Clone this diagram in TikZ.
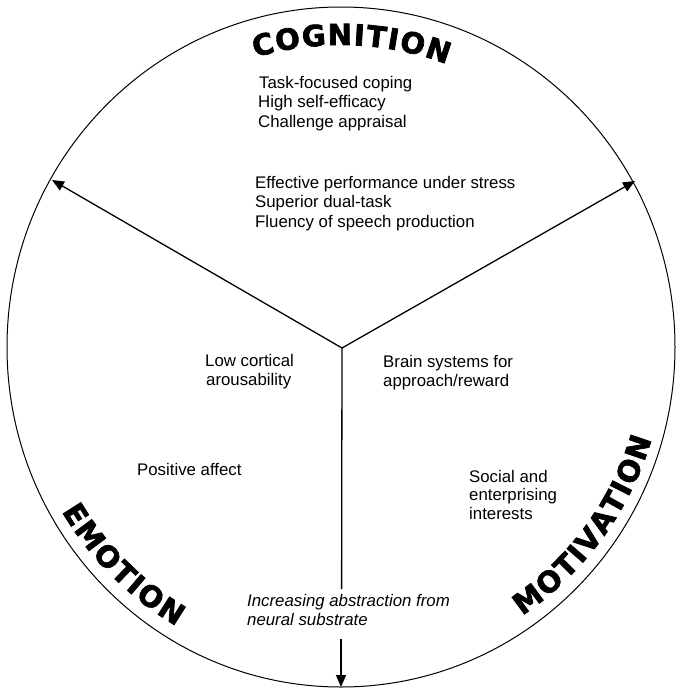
\documentclass[tikz,border=0pt]{standalone}
\usepackage{fontspec}
\setmainfont{Liberation Sans}
\newfontfamily\heavyfont[FakeBold=2.5]{DejaVu Sans Bold}
\newcommand\titlefont{\heavyfont\fontsize{29}{32}\selectfont}
\usetikzlibrary{arrows.meta,decorations.text}
\begin{document}
\begin{tikzpicture}[x=1pt,y=-1pt,
  spokeline/.style={line width=1.3pt},
  spoke/.style={spokeline,-{Triangle[length=12pt,width=10pt]}},
  lbl/.style={anchor=base west,inner sep=0pt,font=\fontsize{16.8}{19.5}\selectfont},
  ilbl/.style={lbl,font=\fontsize{16.8}{19.5}\selectfont\itshape},
  arctitle/.style={decorate,decoration={text along path,text={|\titlefont|#1},text align=fit to path}}
  ]
\useasboundingbox (0,0) rectangle (676,689);
\draw[line width=1pt] (341,347) ellipse [x radius=334pt, y radius=340pt];
\coordinate (hub) at (342,348);
\coordinate (tl) at (52,180);
\coordinate (tr) at (635,181);
\coordinate (bt) at (341,687);
\coordinate (gaptop) at (341.6,589);
\coordinate (gapbot) at (341,639);
\draw[spoke] (hub) -- (tl);
\draw[spoke] (hub) -- (tr);
\draw[spokeline] (hub) -- (gaptop);
\draw[spoke] (gapbot) -- (bt);

\path[arctitle=COGNITION] plot[domain=253.5:290.5,samples=60] ({341+302*cos(\x)},{347+302*sin(\x)});
\path[arctitle=EMOTION] plot[domain=0:1,samples=60] ({341+324*cos(149.5-29*\x)},{347+324*sin(149.5-29*\x)});
\path[arctitle=MOTIVATION] plot[domain=0:1,samples=60] ({341+324*cos(56-39.5*\x)},{347+324*sin(56-39.5*\x)});

\node[lbl] (cog1) at (259,88) {Task-focused coping};
\node[lbl] (cog2) at (258,107.5) {High self-efficacy};
\node[lbl] (cog3) at (258,127) {Challenge appraisal};
\node[lbl] (perf1) at (255,188) {Effective performance under stress};
\node[lbl] (perf2) at (255,207.5) {Superior dual-task};
\node[lbl] (perf3) at (255,227) {Fluency of speech production};
\node[lbl] (emo1) at (205,366) {Low cortical};
\node[lbl] (emo2) at (206,385) {arousability};
\node[lbl] (mot1) at (383,367) {Brain systems for};
\node[lbl] (mot2) at (383,386) {approach/reward};
\node[lbl] (pos) at (137,475) {Positive affect};
\node[lbl] (soc1) at (469,482) {Social and};
\node[lbl] (soc2) at (469,500.5) {enterprising};
\node[lbl] (soc3) at (469,519) {interests};
\node[ilbl] (abs1) at (247,606) {Increasing abstraction from};
\node[ilbl] (abs2) at (247,625) {neural substrate};
\end{tikzpicture}
\end{document}
